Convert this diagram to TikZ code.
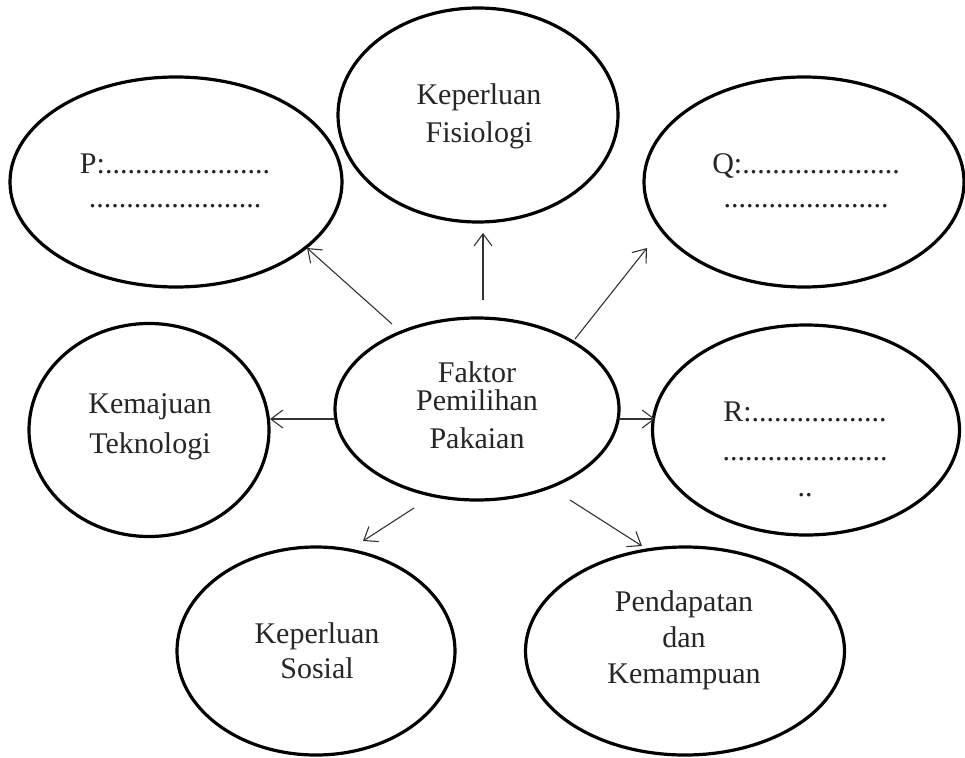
\documentclass[tikz,border=0pt]{standalone}
\usepackage{fontspec}
\setmainfont{Liberation Serif}
\usetikzlibrary{shapes.geometric,arrows.meta}
\tikzset{
  bub/.style={draw=black, ellipse, line width=3.2pt, inner sep=0pt, fill=none},
  txt/.style={font=\fontsize{30}{37}\selectfont, align=center, anchor=base, inner sep=0pt, text=black!85},
  arr/.style={-{Straight Barb[length=12pt,width=18pt]}, line width=1.1pt, draw=black!80}
}
\begin{document}
\begin{tikzpicture}[x=1pt,y=-1pt]
\useasboundingbox[fill=white] (0,0) rectangle (965,757);
% ellipses
\node[bub, minimum width=280pt, minimum height=214pt] (fis) at (478,115) {};
\node[bub, minimum width=332pt, minimum height=210pt] (p) at (176,182) {};
\node[bub, minimum width=320pt, minimum height=210pt] (q) at (804,182) {};
\node[bub, minimum width=284pt, minimum height=182pt] (c) at (477,409) {};
\node[bub, minimum width=240pt, minimum height=213pt] (kem) at (149,430) {};
\node[bub, minimum width=307pt, minimum height=210pt] (r) at (806,430) {};
\node[bub, minimum width=278pt, minimum height=208pt] (sos) at (316,651) {};
\node[bub, minimum width=319pt, minimum height=208pt] (pen) at (685,651) {};
% texts (anchor = baseline of the last line)
\node[txt] (tfis) at (479,142) {Keperluan\\Fisiologi};
\node[txt] (tp) at (175,207) {P:......................\\[-3pt].......................};
\node[txt] (tq) at (806,207) {Q:.....................\\[-3pt]......................};
\node[txt] (tc) at (477,448) {Faktor\\[-9pt]Pemilihan\\[1pt]Pakaian};
\node[txt] (tkem) at (150,453) {Kemajuan\\[3pt]Teknologi};
\node[txt] (tr) at (805,496) {R:..................\\[2pt]......................\\[-1pt]..};
\node[txt] (tsos) at (317,678) {Keperluan\\[-2pt]Sosial};
\node[txt] (tpen) at (684,683) {Pendapatan\\[-1pt]dan\\[-1pt]Kemampuan};
% arrow end points
\coordinate (s1) at (392,324); \coordinate (e1) at (307,248);
\coordinate (s2) at (483,300); \coordinate (e2) at (483,233);
\coordinate (s3) at (575,339); \coordinate (e3) at (647,248);
\coordinate (s4) at (335,419); \coordinate (e4) at (270,419);
\coordinate (s5) at (619,419); \coordinate (e5) at (655,419);
\coordinate (s6) at (414,508); \coordinate (e6) at (363,541);
\coordinate (s7) at (570,500); \coordinate (e7) at (642,546);
\draw[arr] (s1) -- (e1);
\draw[arr] (s2) -- (e2);
\draw[arr] (s3) -- (e3);
\draw[arr] (s4) -- (e4);
\draw[arr] (s5) -- (e5);
\draw[arr] (s6) -- (e6);
\draw[arr] (s7) -- (e7);
\end{tikzpicture}
\end{document}
